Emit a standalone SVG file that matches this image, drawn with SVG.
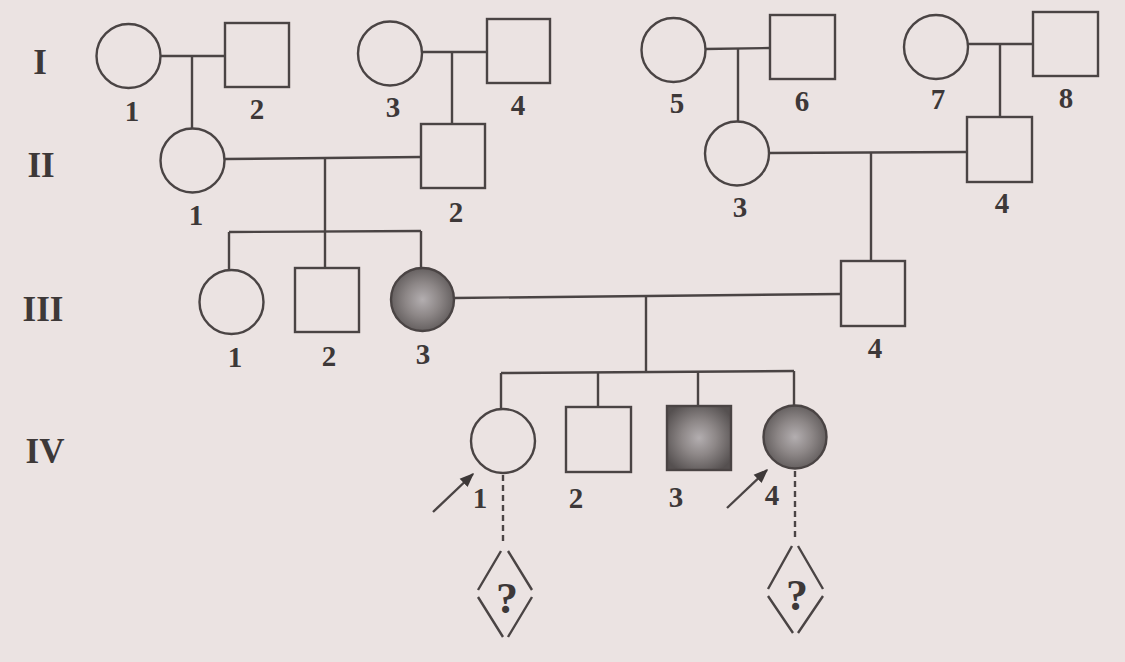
<svg xmlns="http://www.w3.org/2000/svg" width="1125" height="662" viewBox="0 0 1125 662">
<style>
.s{fill:none;stroke:#4a4444;stroke-width:2.4}
.c{stroke:#4a4444;stroke-width:2.4;fill:none}
.d{stroke:#4a4444;stroke-width:2.4;fill:none;stroke-dasharray:6 4}
.aff{fill:url(#spk);stroke:#4a4444;stroke-width:2.4}
.t{font-family:"Liberation Serif","DejaVu Serif",serif;font-weight:bold;font-size:29px;fill:#3d3838;text-anchor:middle}
.g{font-family:"Liberation Serif","DejaVu Serif",serif;font-weight:bold;font-size:35px;fill:#3d3838;text-anchor:middle}
.q{font-family:"Liberation Serif","DejaVu Serif",serif;font-weight:bold;font-size:44px;fill:#3d3838;text-anchor:middle}
</style>
<defs>
<radialGradient id="spk" cx="0.5" cy="0.5" r="0.6">
<stop offset="0" stop-color="#b3aeb0"/>
<stop offset="0.45" stop-color="#8d8787"/>
<stop offset="1" stop-color="#555050"/>
</radialGradient>
<marker id="ah" viewBox="0 0 10 10" refX="9" refY="5" markerWidth="6" markerHeight="6" orient="auto" markerUnits="strokeWidth">
<path d="M0,1 L10,5 L0,9 Z" fill="#3d3838"/>
</marker>
</defs>
<rect width="1125" height="662" fill="#ebe3e2"/>

<g id="gen-labels">
<text class="g" x="40" y="74">I</text>
<text class="g" x="41" y="177">II</text>
<text class="g" x="43" y="321">III</text>
<text class="g" x="45" y="463">IV</text>
</g>

<g id="connectors">
<line class="c" x1="161" y1="56" x2="225" y2="56"/>
<line class="c" x1="192" y1="56" x2="192" y2="128"/>
<line class="c" x1="422" y1="52" x2="487" y2="52"/>
<line class="c" x1="452" y1="52" x2="452" y2="124"/>
<line class="c" x1="705" y1="49" x2="770" y2="48"/>
<line class="c" x1="738" y1="49" x2="738" y2="122"/>
<line class="c" x1="968" y1="44" x2="1033" y2="44"/>
<line class="c" x1="1000" y1="44" x2="1000" y2="117"/>
<line class="c" x1="225" y1="159" x2="421" y2="157"/>
<line class="c" x1="325" y1="158" x2="325" y2="268"/>
<line class="c" x1="769" y1="153" x2="967" y2="152"/>
<line class="c" x1="871" y1="152" x2="871" y2="261"/>
<line class="c" x1="229" y1="232" x2="421" y2="231"/>
<line class="c" x1="229" y1="232" x2="229" y2="270"/>
<line class="c" x1="421" y1="231" x2="421" y2="268"/>
<line class="c" x1="454" y1="298" x2="841" y2="294"/>
<line class="c" x1="646" y1="296" x2="646" y2="373"/>
<line class="c" x1="501" y1="373" x2="794" y2="371"/>
<line class="c" x1="501" y1="373" x2="501" y2="409"/>
<line class="c" x1="598" y1="372" x2="598" y2="407"/>
<line class="c" x1="698" y1="372" x2="698" y2="406"/>
<line class="c" x1="794" y1="371" x2="794" y2="406"/>
<line class="d" x1="503" y1="475" x2="503" y2="545"/>
<line class="d" x1="795" y1="471" x2="795" y2="541"/>
<line class="c" x1="433" y1="512" x2="473" y2="474" marker-end="url(#ah)"/>
<line class="c" x1="727" y1="508" x2="767" y2="470" marker-end="url(#ah)"/>
</g>

<g id="I-1"><circle class="s" cx="128.5" cy="56" r="32"/><text class="t" x="132" y="121">1</text></g>
<g id="I-2"><rect class="s" x="225" y="23" width="64" height="64"/><text class="t" x="257" y="119">2</text></g>
<g id="I-3"><circle class="s" cx="390" cy="53.5" r="32"/><text class="t" x="393" y="117">3</text></g>
<g id="I-4"><rect class="s" x="487" y="19" width="63" height="64"/><text class="t" x="518" y="115">4</text></g>
<g id="I-5"><circle class="s" cx="673.5" cy="50" r="32"/><text class="t" x="677" y="113">5</text></g>
<g id="I-6"><rect class="s" x="770" y="15" width="65" height="64"/><text class="t" x="802" y="111">6</text></g>
<g id="I-7"><circle class="s" cx="936" cy="47" r="32"/><text class="t" x="938" y="109">7</text></g>
<g id="I-8"><rect class="s" x="1033" y="12" width="65" height="64"/><text class="t" x="1066" y="108">8</text></g>

<g id="II-1"><circle class="s" cx="192.5" cy="160.5" r="32"/><text class="t" x="196" y="225">1</text></g>
<g id="II-2"><rect class="s" x="421" y="124" width="64" height="64"/><text class="t" x="456" y="222">2</text></g>
<g id="II-3"><circle class="s" cx="737" cy="153.5" r="32"/><text class="t" x="740" y="217">3</text></g>
<g id="II-4"><rect class="s" x="967" y="117" width="65" height="65"/><text class="t" x="1002" y="213">4</text></g>

<g id="III-1"><circle class="s" cx="231.5" cy="302" r="32"/><text class="t" x="235" y="367">1</text></g>
<g id="III-2"><rect class="s" x="295" y="268" width="64" height="64"/><text class="t" x="329" y="366">2</text></g>
<g id="III-3"><circle class="aff" cx="422.5" cy="299.5" r="31.5"/><text class="t" x="423" y="364">3</text></g>
<g id="III-4"><rect class="s" x="841" y="261" width="64" height="65"/><text class="t" x="875" y="358">4</text></g>

<g id="IV-1"><circle class="s" cx="503" cy="441" r="32"/><text class="t" x="480" y="508">1</text></g>
<g id="IV-2"><rect class="s" x="566" y="407" width="65" height="65"/><text class="t" x="576" y="508">2</text></g>
<g id="IV-3"><rect class="aff" x="667" y="406" width="64" height="64"/><text class="t" x="676" y="507">3</text></g>
<g id="IV-4"><circle class="aff" cx="795" cy="437" r="31.5"/><text class="t" x="772" y="505">4</text></g>

<g id="child-1">
<path class="c" d="M501,551 L478,590 M478,597 L503,637 M508,551 L532,590 M532,597 L508,637"/>
<text class="q" x="507" y="613">?</text>
</g>
<g id="child-2">
<path class="c" d="M792,546 L768,589 M768,596 L793,633 M798,546 L823,589 M823,596 L798,633"/>
<text class="q" x="797" y="610">?</text>
</g>
</svg>
